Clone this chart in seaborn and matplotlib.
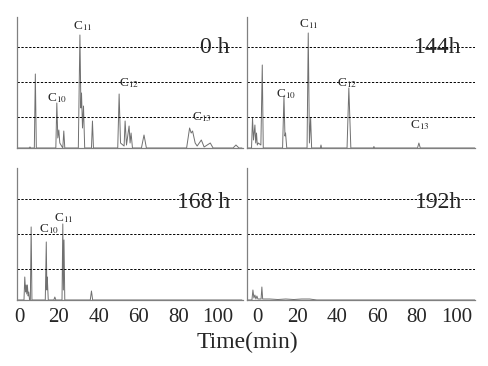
import matplotlib as mpl
import seaborn as sns
import pandas as pd
import numpy as np
plt = mpl.pyplot

sns.set_style("white")
mpl.rcParams['font.family'] = ['Liberation Serif', 'DejaVu Serif']
mpl.rcParams['mathtext.fontset'] = 'stix'

# chromatogram traces (time in min, signal in arbitrary units)
t_0h = [-1, 5, 5.5, 6, 7.7, 8.2, 8.7, 17, 18.5, 19.0, 19.5, 20, 20.5, 22, 22.5, 23,
        29.8, 30.6, 31.1, 31.4, 31.9, 32.4, 33, 36.4, 36.9, 37.4, 49.6, 50.3, 51,
        52.8, 53.3, 54, 55.3, 55.8, 56.3, 57, 61.5, 62.8, 64, 84.2, 85.7, 86.5, 87.2,
        88.5, 89.5, 91.6, 93, 96.1, 97.5, 107.5, 109, 110.5, 112]
y_0h = [0, 0, 1, 0, 0, 74, 0, 0, 0, 45, 10, 18, 5, 0, 17, 0,
        0, 113, 40, 55, 20, 42, 0, 0, 27, 0, 0, 54, 5,
        2, 27, 3, 22, 5, 15, 0, 0, 13, 0, 0, 20, 15, 17,
        5, 2, 8, 1, 5, 0, 0, 3, 0, 0]

t_144h = [-5, -3.2, -2.7, -2.2, -1.5, -1.1, -0.7, -0.3, 0.2, 1.5, 2.2, 2.7, 12.4, 13.1,
          13.6, 13.9, 14.5, 24.7, 25.3, 25.9, 26.5, 27, 31.4, 31.7, 32, 44.8, 45.7,
          46.7, 58, 58.3, 58.6, 80.2, 80.9, 81.6, 109]
y_144h = [0, 0, 30, 8, 23, 5, 15, 3, 5, 3, 83, 0, 0, 52,
          12, 15, 0, 0, 115, 5, 30, 0, 0, 3, 0, 0, 60,
          0, 0, 1.5, 0, 0, 5, 0, 0]

t_168h = [-2, 2.5, 2.9, 3.3, 3.6, 3.9, 4.2, 4.6, 4.9, 5.3, 5.7, 6.1, 6.5, 13.2, 13.7,
          14.0, 14.2, 14.7, 17.5, 18, 18.5, 21.6, 22, 22.3, 22.6, 23, 35.8, 36.4, 37, 112]
y_168h = [0, 0, 23, 8, 15, 6, 15, 4, 8, 0, 0, 73, 0, 0, 58,
          10, 23, 0, 0, 3, 0, 0, 76, 10, 60, 0, 0, 9, 0, 0]

t_192h = [-5, -3, -2.5, -2, -1.5, -1, -0.5, 0, 1.6, 2, 2.4, 6, 10, 14, 18, 22, 26, 29.6, 109]
y_192h = [0, 0, 10, 2, 5, 1, 4, 1, 1, 13, 1, 1, 0.5, 1, 0.5, 1, 1, 0, 0]

panel_names = ['0 h', '144h', '168 h', '192h']
xticks = [0, 20, 40, 60, 80, 100]
dash_levels = [31, 66, 100.5]

# peak labels: (text, time, height)
labels_0h = [('10', 19, 50), ('11', 32.2, 122), ('12', 55.3, 64.5), ('13', 91.7, 31)]
labels_144h = [('10', 14.1, 54), ('11', 25.4, 123.5), ('12', 45, 65), ('13', 81.4, 22.5)]
labels_168h = [('10', 15.3, 71), ('11', 22.5, 81.5)]
labels_192h = []

traces = [(t_0h, y_0h), (t_144h, y_144h), (t_168h, y_168h), (t_192h, y_192h)]
peak_labels = [labels_0h, labels_144h, labels_168h, labels_192h]

fig = plt.figure(figsize=(4.89, 3.66), dpi=100)
boxes = [[0.0348, 0.5956, 0.462, 0.358], [0.505, 0.5956, 0.466, 0.358],
         [0.0348, 0.1803, 0.462, 0.361], [0.505, 0.1803, 0.466, 0.361]]
xlims = [(-1, 112.5), (-5.5, 109), (-1, 112.5), (-5.5, 109)]
ylims = [(0, 131), (0, 131), (0, 132), (0, 132)]
name_y = [95, 95, 92, 92]

for i in range(4):
    ax = fig.add_axes(boxes[i])
    df = pd.DataFrame({'Time': traces[i][0], 'Signal': traces[i][1]})
    sns.lineplot(x='Time', y='Signal', data=df, ax=ax, color='#707070',
                 linewidth=0.7, estimator=None, sort=False)
    for lev in dash_levels:
        ax.axhline(lev, color='black', linewidth=0.7, linestyle=(0, (2.4, 1.6)))
    for txt, tx, ty in peak_labels[i]:
        ax.text(tx, ty, r'C$_{%s}$' % txt, fontsize=9.5, ha='center', va='center')
    ax.text(xlims[i][1] - 6.5, name_y[i], panel_names[i], fontsize=17,
            ha='right', va='baseline')
    ax.set_xlim(*xlims[i])
    ax.set_ylim(*ylims[i])
    ax.set_xticks(xticks)
    ax.set_yticks([])
    ax.set_xlabel('')
    ax.set_ylabel('')
    for s in ['top', 'right']:
        ax.spines[s].set_visible(False)
    for s in ['left', 'bottom']:
        ax.spines[s].set_color('#808080')
        ax.spines[s].set_linewidth(0.9)
    ax.tick_params(axis='x', direction='inout', length=5, width=0.9,
                   color='#555555', labelsize=15, pad=3)
    if i < 2:
        ax.set_xticklabels([])

fig.text(0.505, 0.063, 'Time(min)', fontsize=17, ha='center', va='center')
plt.savefig('out.png', dpi=100)
